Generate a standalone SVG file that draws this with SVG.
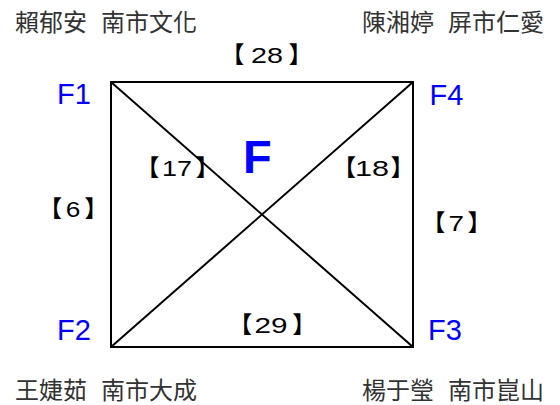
<svg xmlns="http://www.w3.org/2000/svg" width="560" height="405" viewBox="0 0 560 405">
<style>
.name{font-family:"Liberation Sans","Noto Sans CJK TC",sans-serif;font-size:24px;fill:#333}
.br{font-family:"Noto Sans CJK TC",sans-serif;font-size:23px;font-weight:bold;fill:#000}
.num{font-family:"Liberation Sans",Arial,sans-serif;font-size:22px;fill:#000}
.node{font-family:"Liberation Sans",Arial,sans-serif;font-size:29px;fill:#0000ff}
.big{font-family:"Liberation Sans",Arial,sans-serif;font-size:47px;font-weight:bold;fill:#0000ff}
.ln{stroke:#000;stroke-width:2;fill:none}
</style>
<rect width="560" height="405" fill="#fff"/>
<g id="connectors">
<rect class="ln" x="111" y="82" width="302" height="265"/>
<line class="ln" x1="111" y1="82" x2="413" y2="347"/>
<line class="ln" x1="413" y1="82" x2="111" y2="347"/>
</g>
<g id="F1"><text class="node" x="57" y="104">F1</text><text class="name" y="31"><tspan x="15">賴郁安</tspan><tspan x="101">南市文化</tspan></text></g>
<g id="F4"><text class="node" x="429.5" y="104.5">F4</text><text class="name" y="31"><tspan x="362">陳湘婷</tspan><tspan x="448">屏市仁愛</tspan></text></g>
<g id="F2"><text class="node" x="57" y="340">F2</text><text class="name" y="399"><tspan x="15">王婕茹</tspan><tspan x="101">南市大成</tspan></text></g>
<g id="F3"><text class="node" x="428" y="340">F3</text><text class="name" y="399"><tspan x="362">楊于瑩</tspan><tspan x="448">南市崑山</tspan></text></g>
<g id="F"><text class="big" x="243" y="173">F</text></g>
<g id="labels">
<text class="br" x="221.2" y="63">【</text><text class="num" x="251" y="63" textLength="32" lengthAdjust="spacingAndGlyphs">28</text><text class="br" x="288.7" y="63">】</text>
<text class="br" x="38.9" y="217">【</text><text class="num" x="65.7" y="217" textLength="14.6" lengthAdjust="spacingAndGlyphs">6</text><text class="br" x="84.4" y="217">】</text>
<text class="br" x="422.2" y="231">【</text><text class="num" x="448.5" y="231" textLength="15.5" lengthAdjust="spacingAndGlyphs">7</text><text class="br" x="467.7" y="231">】</text>
<text class="br" x="136.2" y="176">【</text><text class="num" x="162" y="176" textLength="30" lengthAdjust="spacingAndGlyphs">17</text><text class="br" x="195.7" y="176">】</text>
<text class="br" x="332.9" y="176">【</text><text class="num" x="355" y="176" textLength="34" lengthAdjust="spacingAndGlyphs">18</text><text class="br" x="390.7" y="176">】</text>
<text class="br" x="228.9" y="333">【</text><text class="num" x="254.5" y="333" textLength="33" lengthAdjust="spacingAndGlyphs">29</text><text class="br" x="292.4" y="333">】</text>
</g>
</svg>
